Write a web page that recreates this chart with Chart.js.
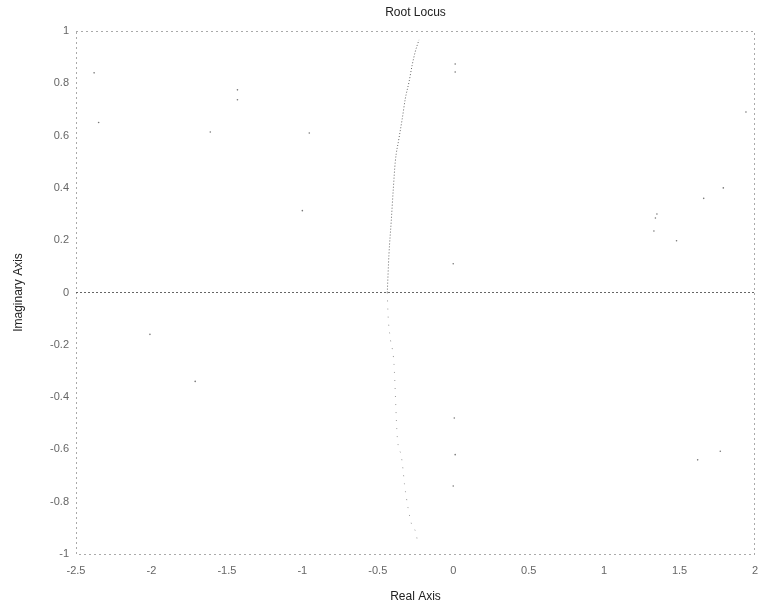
<!DOCTYPE html>
<html>
<head>
	<meta charset="utf-8">
	<title>Root Locus</title>
	<script src="https://cdn.jsdelivr.net/npm/chart.js@4.4.1/dist/chart.umd.min.js"></script>
	<style>
		html, body { margin: 0; padding: 0; background: #fff; }
		#wrap { width: 759px; height: 610px; }
	</style>
</head>
<body>
<div id="wrap"><canvas id="graph"></canvas></div>
<script>
	// tick values
	const xTicks = [-2.5, -2, -1.5, -1, -0.5, 0, 0.5, 1, 1.5, 2];
	const yTicks = [-1, -0.8, -0.6, -0.4, -0.2, 0, 0.2, 0.4, 0.6, 0.8, 1];

	// upper branch of the locus
	const upperX = [-0.437, -0.426, -0.411, -0.397, -0.384, -0.36, -0.338, -0.318, -0.293, -0.272, -0.252, -0.227];
	const upperY = [0, 0.145, 0.271, 0.397, 0.5, 0.588, 0.664, 0.74, 0.805, 0.87, 0.92, 0.966];

	// lower branch (faint in the scan)
	const lowerX = [-0.437, -0.432, -0.419, -0.393, -0.371, -0.344, -0.333, -0.323, -0.309, -0.298, -0.278, -0.245, -0.238];
	const lowerY = [0, -0.084, -0.168, -0.27, -0.55, -0.626, -0.676, -0.733, -0.79, -0.828, -0.882, -0.924, -0.95];

	// real axis segment
	const realX = [-2.5, 2];
	const realY = [0, 0];

	// loose specks on the scan
	const speckX = [-1.61, -1.43, -1.43, -0.954, -1.0, -2.01, -1.71, -2.38, -2.35, 0.013, 0.013, 0, 0.007, 0.013, 0, 1.35, 1.34, 1.33, 1.48, 1.66, 1.79, 1.94, 1.62, 1.77];
	const speckY = [0.614, 0.775, 0.737, 0.61, 0.313, -0.16, -0.34, 0.84, 0.65, 0.874, 0.843, 0.11, -0.48, -0.62, -0.74, 0.3, 0.285, 0.235, 0.198, 0.36, 0.4, 0.69, -0.64, -0.607];

	function pts(xs, ys) {
		return xs.map((x, i) => ({ x: x, y: ys[i] }));
	}

	const font = 'Liberation Sans, Arial, sans-serif';

	const boxPlugin = {
		id: 'box',
		afterDatasetsDraw(chart) {
			const a = chart.chartArea;
			const ctx = chart.ctx;
			ctx.save();
			ctx.strokeStyle = '#555';
			ctx.lineWidth = 1;
			ctx.setLineDash([1, 4]);
			ctx.strokeRect(a.left + 0.5, a.top + 0.5, a.right - a.left - 1, a.bottom - a.top);
			ctx.restore();
		}
	};

	const ctx = document.getElementById('graph').getContext('2d');
	new Chart(ctx, {
		type: 'scatter',
		data: {
			datasets: [
				{
					data: pts(realX, realY),
					showLine: true,
					borderColor: '#666',
					borderWidth: 1,
					borderDash: [2, 2],
					pointRadius: 0
				},
				{
					data: pts(upperX, upperY),
					showLine: true,
					borderColor: '#666',
					borderWidth: 1,
					borderDash: [1, 2],
					pointRadius: 0,
					cubicInterpolationMode: 'monotone'
				},
				{
					data: pts(lowerX, lowerY),
					showLine: true,
					borderColor: '#999',
					borderWidth: 1,
					borderDash: [1, 7],
					pointRadius: 0,
					cubicInterpolationMode: 'monotone'
				},
				{
					data: pts(speckX, speckY),
					showLine: false,
					backgroundColor: '#777',
					borderWidth: 0,
					pointRadius: 0.8
				}
			]
		},
		options: {
			responsive: true,
			maintainAspectRatio: false,
			animation: false,
			layout: { padding: 0 },
			plugins: {
				legend: { display: false },
				tooltip: { enabled: false }
			},
			scales: {
				x: {
					type: 'linear',
					min: -2.5,
					max: 2,
					afterBuildTicks: scale => { scale.ticks = xTicks.map(v => ({ value: v })); },
					afterFit: scale => {
						scale.height = 56;
						scale.paddingLeft = 0;
						scale.paddingRight = 0;
					},
					grid: { display: false, drawTicks: false },
					border: { display: false },
					ticks: {
						color: '#666',
						padding: 10,
						font: { family: font, size: 11 },
						callback: v => String(v)
					},
					title: {
						display: true,
						text: 'Real Axis',
						color: '#222',
						font: { family: font, size: 12 },
						padding: { top: 0, bottom: 6 }
					}
				},
				// top axis only carries the chart title, centred over the plot
				top: {
					type: 'linear',
					position: 'top',
					axis: 'x',
					min: -2.5,
					max: 2,
					afterFit: scale => {
						scale.height = 31;
						scale.paddingLeft = 0;
						scale.paddingRight = 0;
					},
					grid: { display: false, drawTicks: false },
					border: { display: false },
					ticks: { display: false },
					title: {
						display: true,
						text: 'Root Locus',
						color: '#222',
						font: { family: font, size: 12 },
						padding: { top: 5, bottom: 0 }
					}
				},
				y: {
					type: 'linear',
					min: -1,
					max: 1,
					afterBuildTicks: scale => { scale.ticks = yTicks.map(v => ({ value: v })); },
					afterFit: scale => {
						scale.width = 76;
						scale.paddingTop = 0;
						scale.paddingBottom = 0;
					},
					grid: { display: false, drawTicks: false },
					border: { display: false },
					ticks: {
						color: '#666',
						padding: 7,
						font: { family: font, size: 11 },
						callback: v => String(v)
					},
					title: {
						display: true,
						text: 'Imaginary Axis',
						color: '#222',
						font: { family: font, size: 12 },
						padding: { top: 11, bottom: 0 }
					}
				}
			}
		},
		plugins: [boxPlugin]
	});
</script>
</body>
</html>
